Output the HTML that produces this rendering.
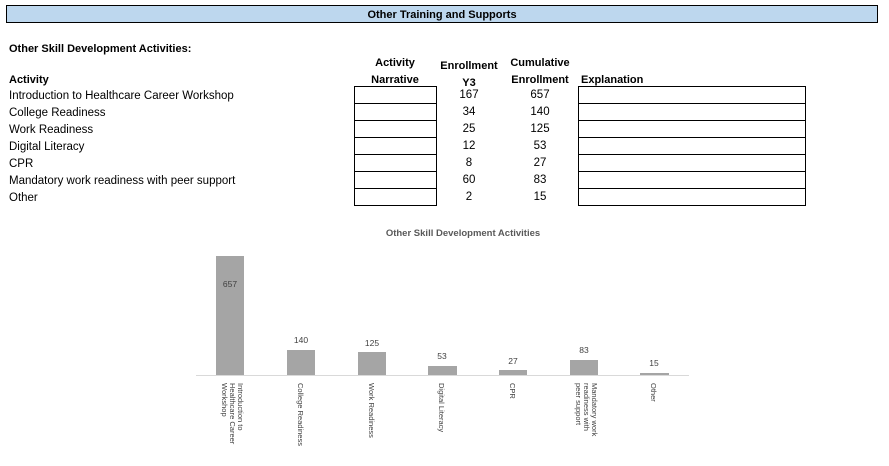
<!DOCTYPE html>
<html><head><meta charset="utf-8"><style>
body{margin:0;width:889px;height:466px;background:#fff;position:relative;font-family:"Liberation Sans",sans-serif;overflow:hidden}
.a{position:absolute;white-space:nowrap}
.b{font-weight:bold;font-size:11px}
.t{font-size:11.5px;color:#000}
.c{text-align:center}
.box{position:absolute;border:1px solid #000;box-sizing:border-box}
</style></head><body>
<div class="box" style="left:6px;top:5px;width:872px;height:18px;background:#bdd7ee"></div>
<div class="a b c" style="left:6px;width:872px;top:9px;font-size:11px">Other Training and Supports</div>
<div class="a b" style="left:9px;top:43px">Other Skill Development Activities:</div>
<div class="a b c" style="left:354px;width:82px;top:57px">Activity</div>
<div class="a b c" style="left:354px;width:82px;top:74px">Narrative</div>
<div class="a b c" style="left:434px;width:70px;top:60px">Enrollment</div>
<div class="a b c" style="left:434px;width:70px;top:77px">Y3</div>
<div class="a b c" style="left:505px;width:70px;top:57px">Cumulative</div>
<div class="a b c" style="left:505px;width:70px;top:74px">Enrollment</div>
<div class="a b" style="left:581px;top:74px">Explanation</div>
<div class="a b" style="left:9px;top:74px">Activity</div>
<div id="rows"></div>
<svg width="889" height="466" style="position:absolute;left:0;top:0" font-family="Liberation Sans, sans-serif">
<text x="463" y="236" text-anchor="middle" font-size="9.5" font-weight="bold" fill="#595959">Other Skill Development Activities</text>
<line x1="196" y1="375.5" x2="689" y2="375.5" stroke="#d9d9d9"/>
<g fill="#a5a5a5">
<rect x="216" y="256" width="28" height="119"/>
<rect x="287" y="350" width="28" height="25"/>
<rect x="358" y="352" width="28" height="23"/>
<rect x="428" y="366" width="29" height="9"/>
<rect x="499" y="370" width="28" height="5"/>
<rect x="570" y="360" width="28" height="15"/>
<rect x="640" y="373" width="29" height="2"/>
</g>
<g font-size="8.5" fill="#404040" text-anchor="middle">
<text x="230" y="287">657</text><text x="301" y="343">140</text><text x="372" y="346">125</text>
<text x="442" y="359">53</text><text x="513" y="364">27</text><text x="584" y="353">83</text><text x="654" y="366">15</text>
</g>
<g font-size="7.5" fill="#404040">
<g transform="translate(238,383) rotate(90)"><text x="0" y="0">Introduction to</text><text x="0" y="8">Healthcare Career</text><text x="0" y="16">Workshop</text></g>
<g transform="translate(298,383) rotate(90)"><text>College Readiness</text></g>
<g transform="translate(369,383) rotate(90)"><text>Work Readiness</text></g>
<g transform="translate(439,383) rotate(90)"><text>Digital Literacy</text></g>
<g transform="translate(510,383) rotate(90)"><text>CPR</text></g>
<g transform="translate(592,383) rotate(90)"><text x="0" y="0">Mandatory work</text><text x="0" y="8">readiness with</text><text x="0" y="16">peer support</text></g>
<g transform="translate(651,383) rotate(90)"><text>Other</text></g>
</g>
</svg>
<script>
var d=[["Introduction to Healthcare Career Workshop",167,657],["College Readiness",34,140],["Work Readiness",25,125],["Digital Literacy",12,53],["CPR",8,27],["Mandatory work readiness with peer support",60,83],["Other",2,15]];
var h="";
d.forEach(function(r,i){var y=86+i*17;
h+='<div class="a t" style="left:9px;top:'+(y+4)+'px">'+r[0]+'</div>';
h+='<div class="box" style="left:354px;top:'+y+'px;width:83px;height:18px"></div>';
h+='<div class="box" style="left:578px;top:'+y+'px;width:228px;height:18px"></div>';
h+='<div class="a t c" style="left:434px;width:70px;top:'+(y+3)+'px">'+r[1]+'</div>';
h+='<div class="a t c" style="left:505px;width:70px;top:'+(y+3)+'px">'+r[2]+'</div>';});
document.getElementById("rows").innerHTML=h;
</script>
</body></html>
